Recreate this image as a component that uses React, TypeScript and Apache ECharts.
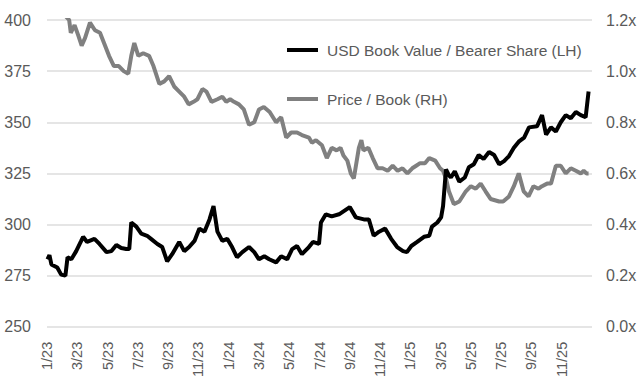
import React, { useEffect, useRef } from "react";
import * as echarts from "echarts";

const bookDates = [
  "2023-01-02","2023-01-06","2023-01-10","2023-01-22","2023-01-30","2023-02-07","2023-02-11","2023-02-18","2023-02-27",
  "2023-03-09","2023-03-13","2023-03-21","2023-04-05","2023-04-15","2023-04-29","2023-05-09","2023-05-19","2023-05-29",
  "2023-06-08","2023-06-14","2023-06-18","2023-06-28","2023-07-08","2023-07-20","2023-07-28","2023-08-10","2023-08-20",
  "2023-08-30","2023-09-09","2023-09-23","2023-10-03","2023-10-13","2023-10-24","2023-11-03","2023-11-13","2023-11-23",
  "2023-12-01","2023-12-09","2023-12-19","2023-12-29","2024-01-08","2024-01-18","2024-01-29","2024-02-11","2024-02-21",
  "2024-03-01","2024-03-12","2024-03-22","2024-04-05","2024-04-15","2024-04-27","2024-05-07","2024-05-17","2024-05-27",
  "2024-06-10","2024-06-18","2024-06-30","2024-07-04","2024-07-14","2024-07-26","2024-08-10","2024-09-01","2024-09-13",
  "2024-09-29","2024-10-09","2024-10-19","2024-10-30","2024-11-11","2024-11-23","2024-12-05","2024-12-17","2024-12-25",
  "2025-01-03","2025-01-15","2025-01-29","2025-02-08","2025-02-13","2025-02-23","2025-03-02","2025-03-06","2025-03-12",
  "2025-03-18","2025-03-22","2025-03-30","2025-04-08","2025-04-19","2025-04-27","2025-05-07","2025-05-17","2025-05-27",
  "2025-06-07","2025-06-17","2025-06-27","2025-07-07","2025-07-17","2025-07-27","2025-08-06","2025-08-17","2025-08-27",
  "2025-09-12","2025-09-22","2025-09-30","2025-10-10","2025-10-20","2025-10-30","2025-11-09","2025-11-19","2025-11-29",
  "2025-12-09","2025-12-19","2025-12-25"
];
const bookValues = [
  283,285,280.5,279,275.5,275,284,283,287,
  292,294,291.5,293,290.5,286.5,287,290,288.5,
  288,288,301,299,295.5,294.5,293,290.5,289,
  282,285.5,291.5,287,289,292,298,296.5,302.5,
  309,296.5,292,293,289,284,286.5,289,286.5,
  283,284.5,283,281.5,284.5,283,288,289.5,285.5,
  289,291.5,290.5,301,305,304,305,308.5,303.5,
  302.5,302.5,294.5,296.5,298,293,289,287,286.5,
  289.5,291.5,294,294.5,299,301,303.5,309,327,
  324,323,326,321,323,328,329.5,334,332,
  335.5,334,329.5,331,333.5,337.5,340.5,342.5,347.5,
  348,353.5,344,347.5,345.5,350,353.5,352,355,
  353.5,352.5,365
];

const pbDates = [
  "2023-01-02","2023-01-22","2023-02-14","2023-02-17","2023-02-24","2023-03-03","2023-03-10","2023-03-17","2023-03-27",
  "2023-04-06","2023-04-16","2023-04-24","2023-05-04","2023-05-14","2023-05-24","2023-06-03","2023-06-12","2023-06-18",
  "2023-06-24","2023-07-02","2023-07-12","2023-07-24","2023-08-02","2023-08-14","2023-08-24","2023-09-03","2023-09-13",
  "2023-09-23","2023-10-03","2023-10-12","2023-10-22","2023-10-30","2023-11-09","2023-11-17","2023-11-27","2023-12-09",
  "2023-12-19","2023-12-27","2024-01-04","2024-01-12","2024-01-22","2024-02-01","2024-02-11","2024-02-21","2024-03-01",
  "2024-03-11","2024-03-23","2024-04-05","2024-04-15","2024-04-25","2024-05-05","2024-05-17","2024-05-27","2024-06-10",
  "2024-06-16","2024-06-24","2024-07-06","2024-07-16","2024-07-26","2024-08-05","2024-08-13","2024-08-19","2024-08-27",
  "2024-09-03","2024-09-09","2024-09-19","2024-09-24","2024-09-28","2024-10-08","2024-10-17","2024-10-27","2024-11-06",
  "2024-11-16","2024-11-26","2024-12-06","2024-12-16","2024-12-26","2025-01-05","2025-01-13","2025-01-21","2025-01-31",
  "2025-02-08","2025-02-19","2025-02-28","2025-03-06","2025-03-12","2025-03-18","2025-03-28","2025-04-08","2025-04-21",
  "2025-05-01","2025-05-11","2025-05-21","2025-05-31","2025-06-10","2025-06-27","2025-07-05","2025-07-17","2025-07-27",
  "2025-08-06","2025-08-16","2025-08-26","2025-09-05","2025-09-15","2025-09-22","2025-10-02","2025-10-10","2025-10-20",
  "2025-10-30","2025-11-09","2025-11-19","2025-11-29","2025-12-09","2025-12-15","2025-12-21","2025-12-25"
];
const pbValues = [
  1.28,1.25,1.2,1.15,1.18,1.14,1.1,1.13,1.19,
  1.16,1.15,1.11,1.06,1.02,1.02,1.0,0.99,1.06,
  1.11,1.06,1.07,1.06,1.02,0.95,0.96,0.98,0.94,
  0.92,0.9,0.87,0.88,0.89,0.93,0.92,0.88,0.89,
  0.9,0.88,0.89,0.88,0.87,0.85,0.79,0.8,0.85,
  0.86,0.84,0.8,0.82,0.74,0.76,0.76,0.75,0.74,
  0.72,0.73,0.71,0.66,0.7,0.69,0.7,0.67,0.65,
  0.6,0.58,0.7,0.73,0.69,0.7,0.66,0.62,0.62,
  0.61,0.63,0.61,0.62,0.6,0.62,0.63,0.64,0.64,
  0.66,0.65,0.62,0.61,0.58,0.53,0.48,0.49,0.53,
  0.55,0.54,0.56,0.53,0.5,0.49,0.49,0.51,0.55,
  0.6,0.53,0.51,0.55,0.54,0.55,0.56,0.56,0.63,
  0.63,0.6,0.62,0.61,0.6,0.61,0.6,0.6,0.62,
  0.64,0.6,0.58
];

const leftTicks = { min: 250, max: 400, interval: 25 };
const rightTicks = { min: 0, max: 1.2, interval: 0.2 };
const seriesNames = ["USD Book Value / Bearer Share (LH)", "Price / Book (RH)"];

function monthIndex(s: string): number {
  const [y, m, d] = s.split("-").map(Number);
  const dim = new Date(y, m, 0).getDate();
  return (y - 2023) * 12 + (m - 1) + (d - 1) / dim;
}

function monthLabel(v: number): string {
  if (v >= 36) return "";
  const m = (v % 12) + 1;
  const y = 23 + Math.floor(v / 12);
  return `${m}/${y}`;
}

export default function App() {
  const ref = useRef<HTMLDivElement>(null);
  useEffect(() => {
    if (!ref.current) return;
    const chart = echarts.init(ref.current, undefined, { renderer: "svg" });
    const n = Math.min(pbDates.length, pbValues.length);
    const bookData = bookDates.map((d, i) => [monthIndex(d), bookValues[i]]);
    const pbData = pbDates.slice(0, n).map((d, i) => [monthIndex(d), pbValues[i]]);
    const font = "Liberation Sans";
    const txt = "#5a5a5a";
    chart.setOption({
      animation: false,
      backgroundColor: "#fff",
      textStyle: { fontFamily: font },
      grid: { left: 47, right: 48, top: 20, bottom: 52, containLabel: false },
      legend: {
        orient: "vertical",
        left: 287,
        top: 41,
        padding: 0,
        icon: "rect",
        itemWidth: 31,
        itemHeight: 4,
        itemGap: 31,
        data: seriesNames,
        textStyle: { color: txt, fontSize: 15.5, lineHeight: 18, fontFamily: font, padding: [0, 0, 0, 4] },
      },
      xAxis: {
        type: "value",
        min: 0,
        max: 36,
        interval: 2,
        axisLine: { show: false },
        axisTick: { show: false },
        splitLine: { show: false },
        axisLabel: {
          rotate: 90,
          margin: 15,
          color: txt,
          fontSize: 14.5,
          fontFamily: font,
          showMaxLabel: false,
          formatter: (v: number) => monthLabel(v),
        },
      },
      yAxis: [
        {
          type: "value",
          ...leftTicks,
          position: "left",
          axisLine: { show: false },
          axisTick: { show: false },
          splitLine: { show: true, lineStyle: { color: "#dcdcdc", width: 1.5 } },
          axisLabel: { color: txt, fontSize: 16, margin: 16, fontFamily: font },
        },
        {
          type: "value",
          ...rightTicks,
          position: "right",
          axisLine: { show: false },
          axisTick: { show: false },
          splitLine: { show: false },
          axisLabel: {
            color: txt,
            fontSize: 16,
            margin: 14,
            fontFamily: font,
            formatter: (v: number) => v.toFixed(1) + "x",
          },
        },
      ],
      series: [
        {
          name: seriesNames[1],
          type: "line",
          yAxisIndex: 1,
          data: pbData,
          showSymbol: false,
          symbol: "none",
          clip: true,
          lineStyle: { color: "#808080", width: 4 },
          itemStyle: { color: "#808080" },
          z: 2,
        },
        {
          name: seriesNames[0],
          type: "line",
          yAxisIndex: 0,
          data: bookData,
          showSymbol: false,
          symbol: "none",
          clip: true,
          lineStyle: { color: "#000", width: 4 },
          itemStyle: { color: "#000" },
          z: 3,
        },
      ],
    });
    return () => chart.dispose();
  }, []);
  return (
    <div
      ref={ref}
      style={{ position: "fixed", left: 0, top: 0, width: 640, height: 380 }}
    />
  );
}
